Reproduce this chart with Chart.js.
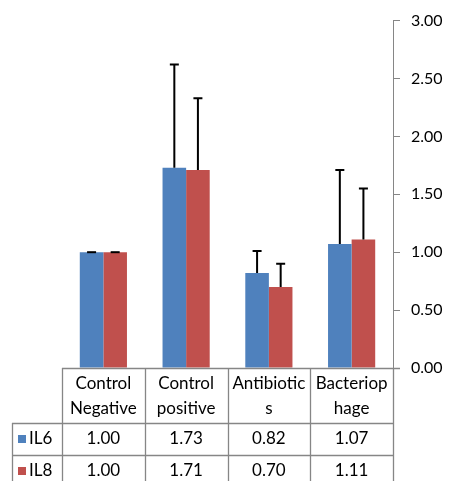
<!DOCTYPE html>
<html><head><meta charset="utf-8">
<script src="https://cdn.jsdelivr.net/npm/chart.js@4"></script>
<style>html,body{margin:0;padding:0;background:#fff}#wrap{width:451px;height:481px;position:relative}</style>
</head><body><div id="wrap"><canvas id="c"></canvas></div>
<script>
const categories = [['Control','Negative'],['Control','positive'],['Antibiotic','s'],['Bacteriop','hage']];
const seriesNames = ['IL6','IL8'];
const il6 = [1.00, 1.73, 0.82, 1.07];
const il8 = [1.00, 1.71, 0.70, 1.11];
const il6Err = [0.00, 0.89, 0.19, 0.64];
const il8Err = [0.00, 0.62, 0.20, 0.44];
const yTicks = [0, 0.5, 1, 1.5, 2, 2.5, 3];
const colors = ['#4F81BD', '#C0504D'];
const FONT = 'Lato, "Open Sans", sans-serif';
const AXIS = '#868686';

const errorBars = {
  id: 'errorBars',
  afterDatasetsDraw(chart) {
    const ctx = chart.ctx, y = chart.scales.y;
    const errs = [il6Err, il8Err];
    ctx.save();
    ctx.strokeStyle = '#000'; ctx.lineWidth = 2;
    chart.data.datasets.forEach((ds, di) => {
      chart.getDatasetMeta(di).data.forEach((bar, i) => {
        const top = y.getPixelForValue(ds.data[i] + errs[di][i]);
        const base = y.getPixelForValue(ds.data[i]);
        ctx.beginPath();
        ctx.moveTo(bar.x, base); ctx.lineTo(bar.x, top);
        ctx.moveTo(bar.x - 4.5, top); ctx.lineTo(bar.x + 4.5, top);
        ctx.stroke();
      });
    });
    ctx.restore();
  }
};

const dataTable = {
  id: 'dataTable',
  afterDraw(chart) {
    const ctx = chart.ctx, x = chart.scales.x, ca = chart.chartArea;
    const n = categories.length;
    const cw = (ca.right - ca.left) / n;
    const top = ca.bottom, hdrB = top + 55, r1B = hdrB + 32, r2B = r1B + 32;
    const legL = 12;
    ctx.save();
    ctx.strokeStyle = AXIS; ctx.lineWidth = 1.3;
    ctx.beginPath();
    ctx.moveTo(ca.left, top + 0.5); ctx.lineTo(ca.right + 7, top + 0.5);
    ctx.moveTo(legL, hdrB + 0.5); ctx.lineTo(ca.right, hdrB + 0.5);
    ctx.moveTo(legL, r1B + 0.5); ctx.lineTo(ca.right, r1B + 0.5);
    ctx.moveTo(legL + 0.5, hdrB); ctx.lineTo(legL + 0.5, r2B);
    for (let i = 0; i <= n; i++) {
      const xx = Math.round(ca.left + i * cw) + 0.5;
      ctx.moveTo(xx, top); ctx.lineTo(xx, r2B);
    }
    ctx.stroke();
    ctx.fillStyle = '#000';
    ctx.font = '17px ' + FONT;
    ctx.textAlign = 'center'; ctx.textBaseline = 'middle';
    categories.forEach((lines, i) => {
      const cx = x.getPixelForValue(i);
      lines.forEach((t, k) => ctx.fillText(t, cx, top + 16 + k * 25));
    });
    const rows = [il6, il8];
    rows.forEach((vals, r) => {
      const cy = hdrB + 16 + r * 32;
      vals.forEach((v, i) => ctx.fillText(v.toFixed(2), x.getPixelForValue(i), cy));
      ctx.fillStyle = colors[r];
      ctx.fillRect(legL + 6, cy - 4, 8, 8);
      ctx.fillStyle = '#000';
      ctx.textAlign = 'left';
      ctx.fillText(seriesNames[r], legL + 17, cy);
      ctx.textAlign = 'center';
    });
    ctx.restore();
  }
};

new Chart(document.getElementById('c'), {
  type: 'bar',
  data: {
    labels: categories,
    datasets: [
      { label: seriesNames[0], data: il6, backgroundColor: colors[0], borderWidth: 0 },
      { label: seriesNames[1], data: il8, backgroundColor: colors[1], borderWidth: 0 }
    ]
  },
  options: {
    responsive: true, maintainAspectRatio: false, animation: false,
    devicePixelRatio: 1,
    layout: { padding: { left: 62, top: 18, bottom: 113, right: 0 } },
    categoryPercentage: 0.57, barPercentage: 1.0,
    plugins: { legend: { display: false }, tooltip: { enabled: false } },
    scales: {
      x: { display: false },
      y: {
        position: 'right', min: 0, max: 3,
        afterBuildTicks(s) { s.ticks = yTicks.map(v => ({ value: v })); },
        afterFit(s) { s.width = 58; },
        border: { display: true, color: AXIS, width: 1 },
        grid: { drawOnChartArea: false, drawTicks: true, tickLength: 7, color: AXIS },
        ticks: { padding: 11, color: '#000', font: { family: FONT, size: 16 },
                 callback: v => Number(v).toFixed(2) }
      }
    }
  },
  plugins: [errorBars, dataTable]
});
</script></body></html>
